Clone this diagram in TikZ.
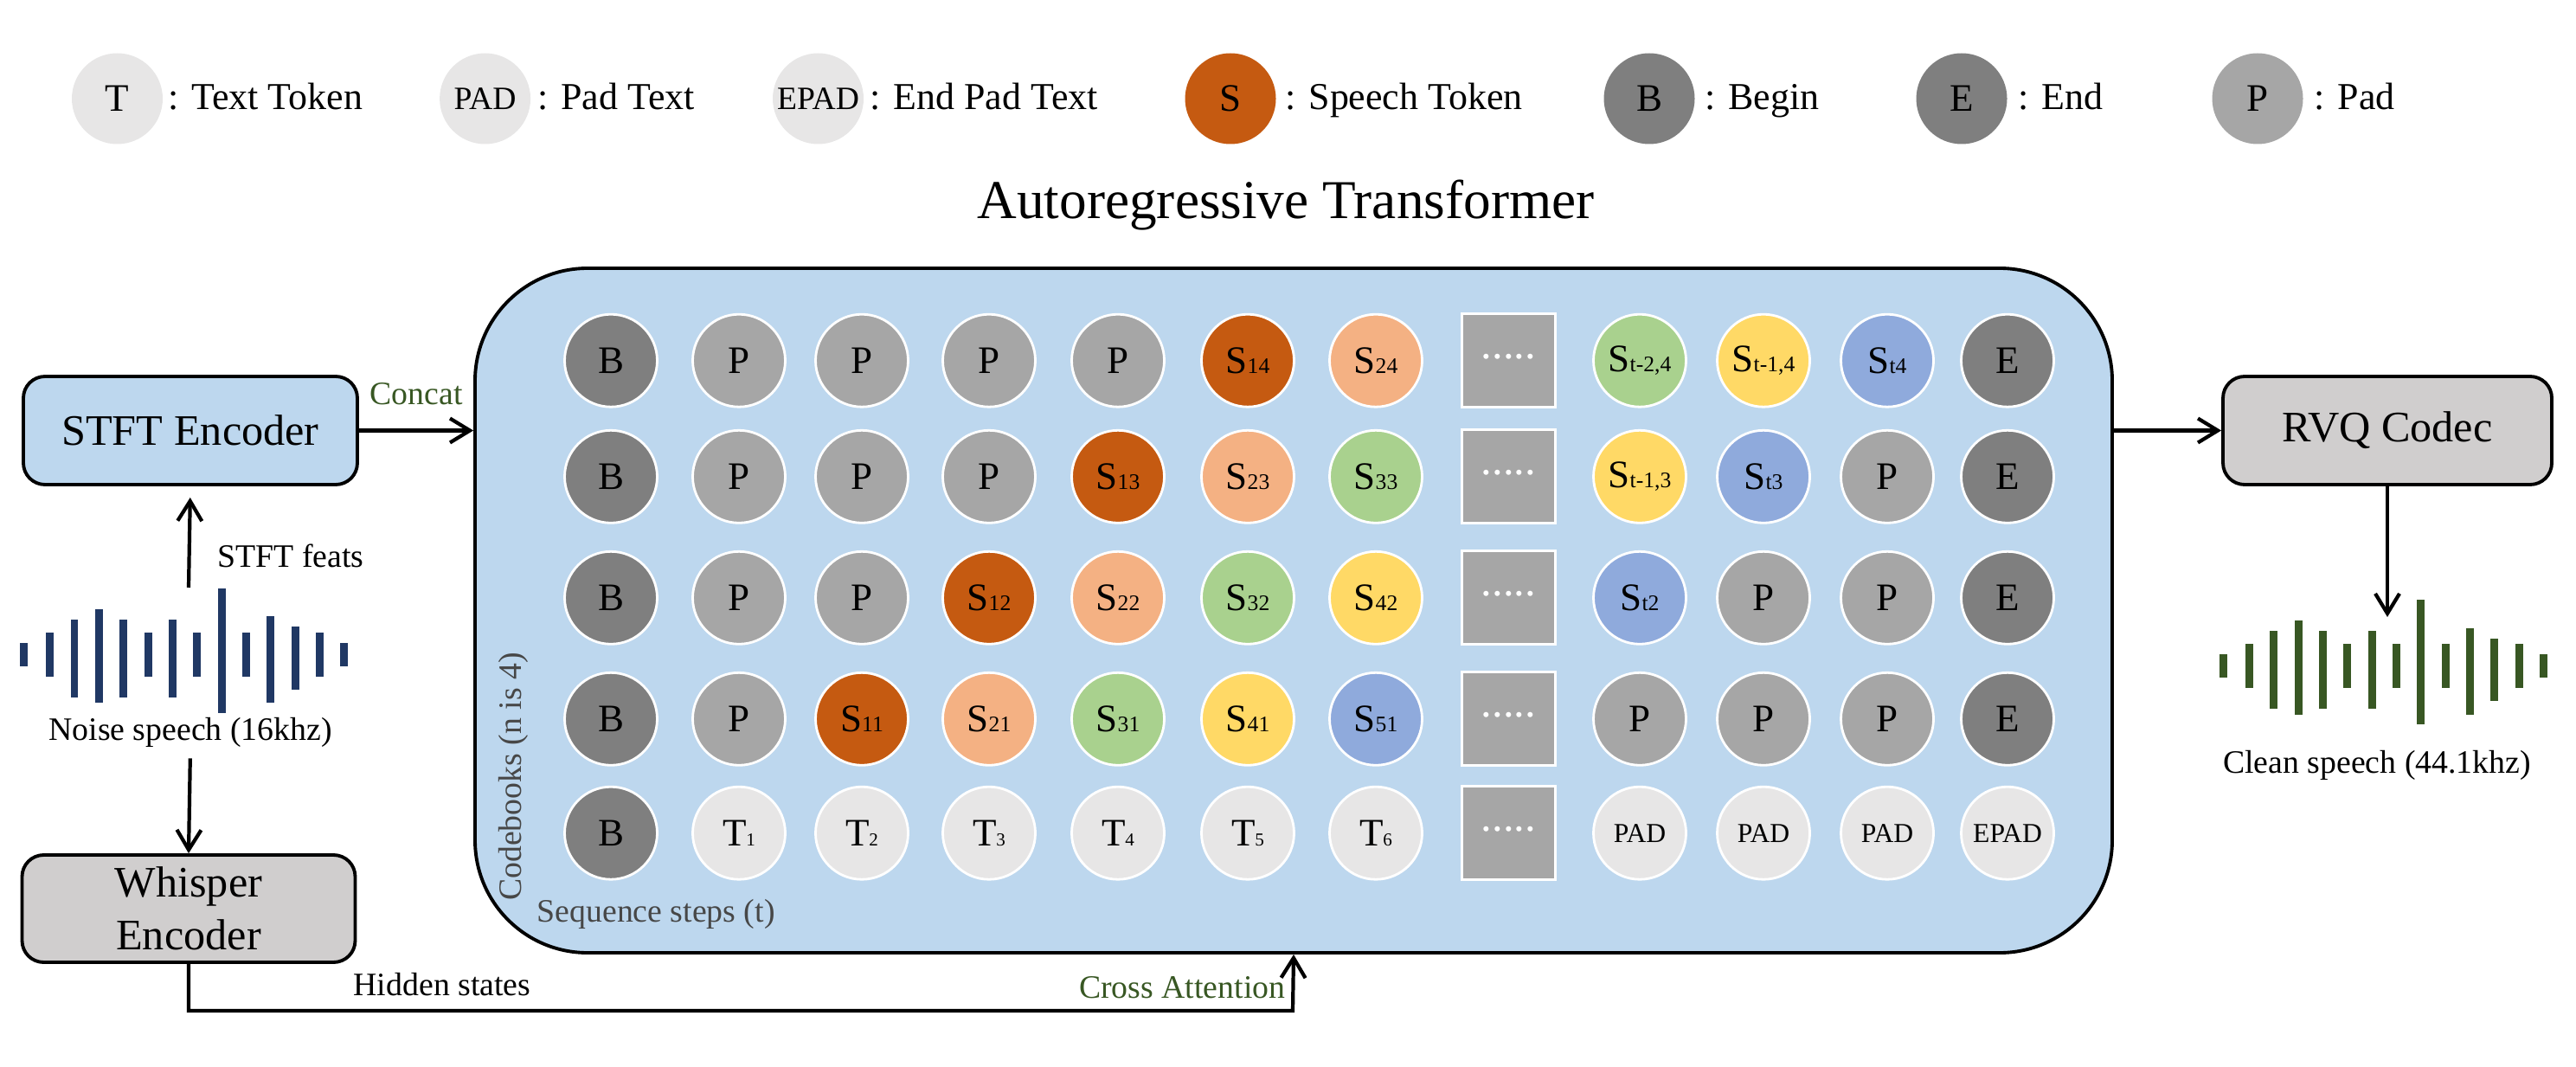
\documentclass[tikz,border=0pt]{standalone}
\usepackage{fontspec}
\setmainfont{Liberation Serif}
\usetikzlibrary{positioning, arrows.meta, calc}
\definecolor{cBox}{HTML}{BDD7EE}
\definecolor{cCodec}{HTML}{D0CECE}
\definecolor{cDark}{HTML}{7F7F7F}
\definecolor{cPad}{HTML}{A6A6A6}
\definecolor{cText}{HTML}{E7E6E6}
\definecolor{cS1}{HTML}{C55A11}
\definecolor{cS2}{HTML}{F4B183}
\definecolor{cS3}{HTML}{A9D18E}
\definecolor{cS4}{HTML}{FFD966}
\definecolor{cS5}{HTML}{8FAADC}
\definecolor{cNavy}{HTML}{203864}
\definecolor{cGreen}{HTML}{385723}
\definecolor{cLabel}{HTML}{474747}

\newcommand{\idx}[2][7.3]{{\fontsize{#1}{#1}\selectfont #2}}
\newcommand{\wavebars}[3]{%
  \foreach \wx/\wu/\wd in {0/0.143/0.13, 0.30/0.263/0.247, 0.583/0.413/0.49,
      0.867/0.533/0.553, 1.15/0.413/0.49, 1.433/0.263/0.247, 1.717/0.413/0.49,
      2.0/0.263/0.247, 2.283/0.77/0.67, 2.567/0.263/0.247, 2.85/0.447/0.553,
      3.133/0.327/0.397, 3.417/0.263/0.247, 3.70/0.143/0.13}
    \fill[#1] ({#2+\wx-0.045},{#3+\wu}) rectangle ({#2+\wx+0.045},{#3-\wd});}

\begin{document}
\begin{tikzpicture}[
  tok/.style={circle, fill=#1, draw=white, line width=0.8pt, minimum size=1.07cm,
              inner sep=0pt, font=\fontsize{12.8}{14}\selectfont},
  gapbox/.style={rectangle, fill=cPad, draw=white, line width=0.8pt, minimum size=1.08cm,
                 inner sep=0pt, text=white, font=\fontsize{14.4}{16}\selectfont},
  leg/.style={circle, fill=#1, minimum size=1.05cm, inner sep=0pt,
              font=\fontsize{12.8}{14}\selectfont},
  legtext/.style={anchor=base west, inner sep=0pt, font=\fontsize{12.5}{14}\selectfont},
  block/.style={draw, line width=1.1pt, rounded corners=0.25cm, fill=#1, align=center,
                inner sep=1pt, font=\fontsize{14.3}{17.4}\selectfont},
  note/.style={inner sep=0pt, font=\fontsize{10.75}{12}\selectfont},
  arr/.style={-{Straight Barb[length=2.3mm,width=2.8mm]}, line width=1.2pt},
]
  \useasboundingbox (0,0) rectangle (29.77,-12.33);

  % LEGEND
  \node[leg=cText] (lT) at (1.355,-1.14) {T};
  \node[legtext] (lTt) at (1.94,-1.27) {: Text Token};
  \node[leg=cText] (lPad) at (5.606,-1.14) {\fontsize{10.7}{12}\selectfont PAD};
  \node[legtext] (lPadt) at (6.21,-1.27) {: Pad Text};
  \node[leg=cText] (lEpad) at (9.455,-1.14) {\fontsize{10.7}{12}\selectfont EPAD};
  \node[legtext] (lEpadt) at (10.05,-1.27) {: End Pad Text};
  \node[leg=cS1] (lS) at (14.22,-1.14) {S};
  \node[legtext] (lSt) at (14.85,-1.27) {: Speech Token};
  \node[leg=cDark] (lB) at (19.06,-1.14) {B};
  \node[legtext] (lBt) at (19.70,-1.27) {: Begin};
  \node[leg=cDark] (lE) at (22.67,-1.14) {E};
  \node[legtext] (lEt) at (23.32,-1.27) {: End};
  \node[leg=cPad] (lP) at (26.09,-1.14) {P};
  \node[legtext] (lPt) at (26.74,-1.27) {: Pad};

  \node[font=\fontsize{18}{21}\selectfont] (title) at (14.86,-2.37) {Autoregressive Transformer};

  % TRANSFORMER
  \node[draw, line width=1.1pt, fill=cBox, rounded corners=1.3cm, minimum width=18.92cm,
        minimum height=7.91cm] (ar) at (14.95,-7.055) {};

  \foreach \x/\col/\lab [count=\k] in {7.06/cDark/B, 8.54/cPad/P, 9.96/cPad/P, 11.43/cPad/P,
      12.92/cPad/P, 14.42/cS1/S\idx{14}, 15.90/cS2/S\idx{24}, 18.95/cS3/{S\idx{t-2,4}},
      20.38/cS4/{S\idx{t-1,4}}, 21.81/cS5/S\idx{t4}, 23.20/cDark/E}
    \node[tok=\col] (r1c\k) at (\x,-4.167) {\lab};
  \foreach \x/\col/\lab [count=\k] in {7.06/cDark/B, 8.54/cPad/P, 9.96/cPad/P, 11.43/cPad/P,
      12.92/cS1/S\idx{13}, 14.42/cS2/S\idx{23}, 15.90/cS3/S\idx{33}, 18.95/cS4/{S\idx{t-1,3}},
      20.38/cS5/S\idx{t3}, 21.81/cPad/P, 23.20/cDark/E}
    \node[tok=\col] (r2c\k) at (\x,-5.508) {\lab};
  \foreach \x/\col/\lab [count=\k] in {7.06/cDark/B, 8.54/cPad/P, 9.96/cPad/P, 11.43/cS1/S\idx{12},
      12.92/cS2/S\idx{22}, 14.42/cS3/S\idx{32}, 15.90/cS4/S\idx{42}, 18.95/cS5/S\idx{t2},
      20.38/cPad/P, 21.81/cPad/P, 23.20/cDark/E}
    \node[tok=\col] (r3c\k) at (\x,-6.908) {\lab};
  \foreach \x/\col/\lab [count=\k] in {7.06/cDark/B, 8.54/cPad/P, 9.96/cS1/S\idx{11}, 11.43/cS2/S\idx{21},
      12.92/cS3/S\idx{31}, 14.42/cS4/S\idx{41}, 15.90/cS5/S\idx{51}, 18.95/cPad/P,
      20.38/cPad/P, 21.81/cPad/P, 23.20/cDark/E}
    \node[tok=\col] (r4c\k) at (\x,-8.308) {\lab};
  \foreach \x/\col/\lab [count=\k] in {7.06/cDark/B, 8.54/cText/T\idx[6]{1}, 9.96/cText/T\idx[6]{2},
      11.43/cText/T\idx[6]{3}, 12.92/cText/T\idx[6]{4}, 14.42/cText/T\idx[6]{5}, 15.90/cText/T\idx[6]{6},
      18.95/cText/{\small PAD}, 20.38/cText/{\small PAD}, 21.81/cText/{\small PAD}, 23.20/cText/{\small EPAD}}
    \node[tok=\col] (r5c\k) at (\x,-9.627) {\lab};
  \foreach \y [count=\k] in {-4.167,-5.508,-6.908,-8.308,-9.627}
    \node[gapbox] (g\k) at (17.435,\y) {\raisebox{3pt}{.....}};

  \node[note, rotate=90, anchor=base, text=cLabel] (cb) at (6.02,-8.975) {Codebooks (n is 4)};
  \node[note, anchor=base west, text=cLabel] (seq) at (6.20,-10.65) {Sequence steps (t)};

  % INPUT SIDE
  \node[block=cBox, minimum width=3.86cm, minimum height=1.25cm] (stft) at (2.20,-4.975) {STFT Encoder};
  \node[block=cCodec, minimum width=3.85cm, minimum height=1.24cm] (whisper) at (2.18,-10.50) {Whisper\\Encoder};
  \wavebars{cNavy}{0.277}{-7.57}
  \coordinate (noisetop) at (2.18,-6.79);
  \node[note] (noise) at (2.20,-8.465) {Noise speech (16khz)};
  \node[note, anchor=west] (feats) at (2.51,-6.42) {STFT feats};
  \draw[arr, shorten >=0.13cm] (noisetop) -- (stft.south);
  \draw[arr, shorten <=0.12cm] (noise.south) -- (whisper.north);
  \draw[arr] (stft.east) -- (stft.east -| ar.west)
    node[note, midway, above=0.28cm, text=cGreen] {Concat};
  \coordinate (hbend) at (14.94,-11.68);
  \draw[arr] (whisper.south) |- (hbend) -- (ar.south);
  \node[note, anchor=base west] (hid) at (4.08,-11.50) {Hidden states};
  \node[note, anchor=base east, text=cGreen] (cross) at (14.86,-11.53) {Cross Attention};

  % OUTPUT SIDE
  \node[block=cCodec, minimum width=3.80cm, minimum height=1.25cm] (rvq) at (27.59,-4.975) {RVQ Codec};
  \draw[arr] (ar.east |- rvq.west) -- (rvq.west);
  \wavebars{cGreen}{25.693}{-7.703}
  \coordinate (cleantop) at (27.59,-7.13);
  \draw[arr] (rvq.south) -- (cleantop);
  \node[note] (clean) at (27.47,-8.84) {Clean speech (44.1khz)};
\end{tikzpicture}
\end{document}
